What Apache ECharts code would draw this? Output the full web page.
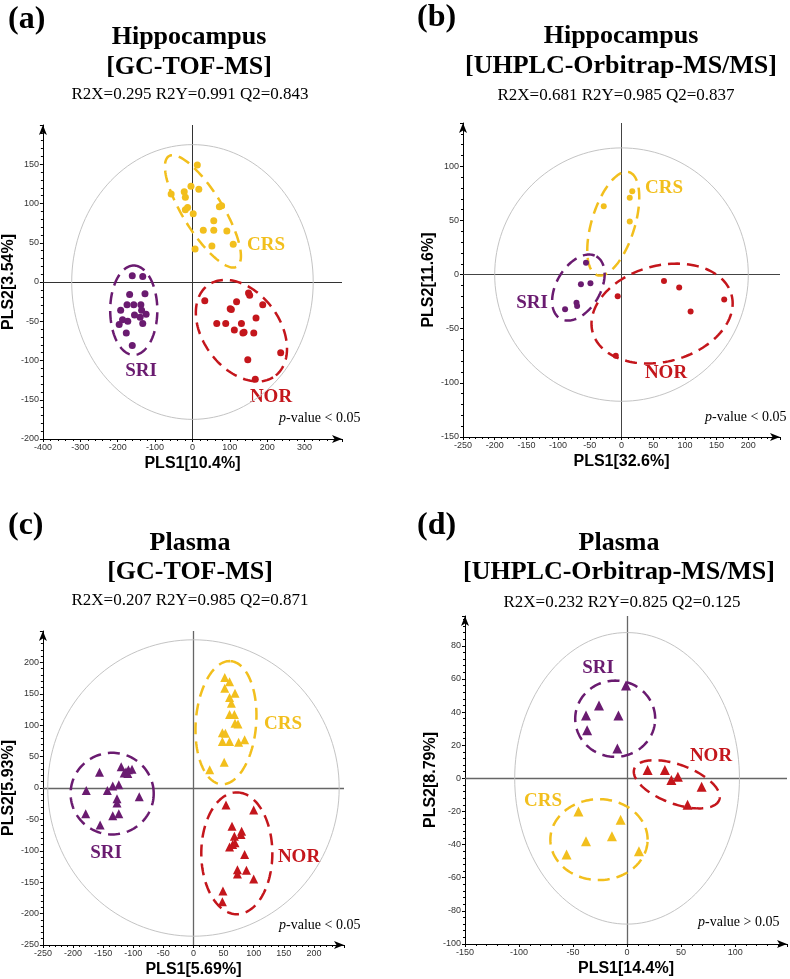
<!DOCTYPE html>
<html>
<head>
<meta charset="utf-8">
<script src="https://cdn.jsdelivr.net/npm/echarts@6/dist/echarts.min.js"></script>
<style>
  html, body { margin: 0; padding: 0; background: #fff; }
  #box { width: 790px; height: 979px; }
</style>
</head>
<body>
<div id="box"></div>
<script>
// group colours
var cCRS = "#F2BF1D", cSRI = "#6A1B70", cNOR = "#C4161C";

// (a) Hippocampus [GC-TOF-MS]  -- score points [PLS1, PLS2]
var aCRS = [[13,149],[-57,112],[-22,115],[-19,108],[-4,122],[17,118],[-19,92],[-13,95],[2,87],
            [72,96],[78,97],[57,78],[29,66],[57,66],[92,65],[109,48],[52,46],[7,42]];
var aSRI = [[-161,8],[-133,7],[-168,-16],[-127,-15],[-192,-36],[-175,-29],[-157,-29],[-138,-29],
            [-136,-36],[-155,-42],[-124,-41],[-140,-45],[-196,-54],[-187,-48],[-173,-50],
            [-133,-53],[-177,-65],[-161,-81]];
var aNOR = [[33,-24],[65,-53],[89,-53],[101,-34],[104,-35],[118,-25],[112,-61],[131,-53],
            [135,-65],[138,-64],[150,-14],[153,-17],[170,-46],[188,-29],[164,-65],[148,-99],
            [168,-124],[236,-90]];
// ellipses: [cx, cy, ux, uy, vx, vy]  (u, v = conjugate semi-axes)
var aT2 = [0, 0, 323, 0, 0, 175];
var aEllCRS = [28, 90, -64, 69.5, 79, -17];
var aEllSRI = [-157, -36, 0, 57, 63, 0];
var aEllNOR = [131, -62, 92, -57, 80, 30.5];

// (b) Hippocampus [UHPLC-Orbitrap-MS/MS]
var bCRS = [[-28,63],[17,77],[13,71],[13,49]];
var bSRI = [[-56,11],[-64,-9],[-49,-8],[-71,-26],[-70,-29],[-89,-32]];
var bNOR = [[-6,-20],[-9,-75],[67,-6],[91,-12],[109,-34],[162,-23]];
var bT2 = [0, 0, 200, 0, 0, 117];
var bEllCRS = [-13, 47, 25, 47.6, 32.5, -5.8];
var bEllSRI = [-68, -12, 28.4, 28.8, 30.1, -10.1];
var bEllNOR = [64, -36, 109.6, 17.2, 19.6, -42.8];

// (c) Plasma [GC-TOF-MS]
var cCRSpts = [[52,176],[60,169],[52,159],[69,151],[60,144],[63,135],[60,117],[68,117],[69,103],
               [74,102],[48,88],[53,87],[48,74],[60,74],[75,73],[85,77],[51,41],[27,29]];
var cSRIpts = [[-156,25],[-178,-4],[-179,-41],[-155,-59],[-143,-4],[-134,3],[-124,5],[-120,34],
               [-112,26],[-108,29],[-102,30],[-115,24],[-109,23],[-127,-17],[-127,-24],
               [-134,-44],[-124,-41],[-90,-14]];
var cNORpts = [[54,-27],[100,-35],[64,-61],[68,-77],[79,-74],[80,-69],[60,-94],[65,-90],[69,-87],
               [85,-106],[73,-130],[73,-137],[88,-131],[100,-145],[49,-164],[48,-181]];
var cT2 = [0, 0, 242, 0, 0, 236];
var cEllCRS = [54, 104, 8, 98, 50, -4];
var cEllSRI = [-135, -9, 69, 0, 0, 65];
var cEllNOR = [72, -104, 0, 97, 59, 0];

// (d) Plasma [UHPLC-Orbitrap-MS/MS]
var dSRI = [[-1,56],[-26,44],[-38,38],[-8,38],[-37,29],[-9,18]];
var dNOR = [[19,5],[35,5],[47,1],[41,-1],[69,-5],[56,-16]];
var dCRS = [[-45,-20],[-6,-25],[-38,-38],[-14,-35],[-56,-46],[11,-44]];
var dT2 = [0, 0, 104, 0, 0, 88];
var dEllSRI = [-11, 36, 37, 0, 0, 23];
var dEllNOR = [46, -3.6, 39.3, -9.4, -6.2, -11.1];
var dEllCRS = [-26, -37, 45, 0, 0, 24.4];

var serif = "Liberation Serif", sans = "Liberation Sans";

function xAx(g, min, max, step, name) {
  return {
    gridIndex: g, type: "value", min: min, max: max, interval: step,
    name: name, nameLocation: "middle", nameGap: 17,
    nameTextStyle: { fontFamily: sans, fontWeight: "bold", fontSize: 16, color: "#000" },
    axisLine: { onZero: false, symbol: ["none", "arrow"], symbolSize: [6, 10],
                lineStyle: { color: "#000", width: 1 } },
    axisTick: { length: 3, lineStyle: { color: "#000" } },
    minorTick: { show: true, splitNumber: 5, length: 2, lineStyle: { color: "#000" } },
    axisLabel: { fontFamily: sans, fontSize: 9, color: "#333", margin: 4, showMaxLabel: false },
    splitLine: { show: false }
  };
}
function yAx(g, min, max, step, name) {
  var a = xAx(g, min, max, step, name);
  a.nameGap = 21;
  a.nameRotate = 90;
  return a;
}

function pts(g, data, color, sym, size, zeroCol, zeroW) {
  var s = {
    type: "scatter", xAxisIndex: g, yAxisIndex: g, data: data,
    symbol: sym, symbolSize: size, silent: true, z: 4,
    itemStyle: { color: color, opacity: 1 }
  };
  if (zeroCol) {
    // the two zero lines through the origin
    s.markLine = {
      silent: true, symbol: "none", label: { show: false }, z: 1,
      lineStyle: { color: zeroCol, type: "solid", width: zeroW },
      data: [{ xAxis: 0 }, { yAxis: 0 }]
    };
  }
  return s;
}

function ellSeries(g, item, color, width, dash) {
  return {
    type: "custom", xAxisIndex: g, yAxisIndex: g, silent: true, z: 2,
    data: [item],
    renderItem: function (params, api) {
      var cx = api.value(0), cy = api.value(1);
      var c = api.coord([cx, cy]);
      var pu = api.coord([cx + api.value(2), cy + api.value(3)]);
      var pv = api.coord([cx + api.value(4), cy + api.value(5)]);
      var p = [];
      for (var i = 0; i < 144; i++) {
        var t = i / 144 * 2 * Math.PI;
        p.push([
          c[0] + Math.cos(t) * (pu[0] - c[0]) + Math.sin(t) * (pv[0] - c[0]),
          c[1] + Math.cos(t) * (pu[1] - c[1]) + Math.sin(t) * (pv[1] - c[1])
        ]);
      }
      return {
        type: "polygon", shape: { points: p },
        style: { fill: "none", stroke: color, lineWidth: width, lineDash: dash }
      };
    }
  };
}

function txt(x, y, s, font, color, align) {
  return {
    type: "text", x: x, y: y, silent: true,
    style: { text: s, font: font, fill: color, align: align || "center", verticalAlign: "middle" }
  };
}
function pval(x, y, s) {
  return {
    type: "text", x: x, y: y, silent: true,
    style: {
      text: "{i|p}" + s, fill: "#000", align: "left", verticalAlign: "middle",
      font: "14px " + serif,
      rich: { i: { fontStyle: "italic", fontFamily: serif, fontSize: 14 } }
    }
  };
}

var dash = [12, 7];
var chart = echarts.init(document.getElementById("box"));

var option = {
  backgroundColor: "#fff",
  animation: false,
  grid: [
    { left: 37, top: 125, width: 305, height: 314 },
    { left: 463, top: 123, width: 317, height: 314 },
    { left: 37, top: 631, width: 307, height: 315 },
    { left: 465, top: 616, width: 322, height: 328 }
  ],
  xAxis: [
    xAx(0, -400, 400, 100, "PLS1[10.4%]"),
    xAx(1, -250, 250, 50, "PLS1[32.6%]"),
    xAx(2, -250, 250, 50, "PLS1[5.69%]"),
    xAx(3, -150, 148, 50, "PLS1[14.4%]")
  ],
  yAxis: [
    yAx(0, -200, 200, 50, "PLS2[3.54%]"),
    yAx(1, -150, 140, 50, "PLS2[11.6%]"),
    yAx(2, -250, 250, 50, "PLS2[5.93%]"),
    yAx(3, -100, 98, 20, "PLS2[8.79%]")
  ],
  series: [
    ellSeries(0, aT2, "#C4C4C4", 1, null),
    ellSeries(0, aEllCRS, cCRS, 2.5, dash),
    ellSeries(0, aEllSRI, cSRI, 2.5, dash),
    ellSeries(0, aEllNOR, cNOR, 2.5, dash),
    pts(0, aCRS, cCRS, "circle", 7, "#333", 1),
    pts(0, aSRI, cSRI, "circle", 7),
    pts(0, aNOR, cNOR, "circle", 7),

    ellSeries(1, bT2, "#C4C4C4", 1, null),
    ellSeries(1, bEllCRS, cCRS, 2.5, dash),
    ellSeries(1, bEllSRI, cSRI, 2.5, dash),
    ellSeries(1, bEllNOR, cNOR, 2.5, dash),
    pts(1, bCRS, cCRS, "circle", 6, "#444", 1),
    pts(1, bSRI, cSRI, "circle", 6),
    pts(1, bNOR, cNOR, "circle", 6),

    ellSeries(2, cT2, "#C4C4C4", 1, null),
    ellSeries(2, cEllCRS, cCRS, 2.5, dash),
    ellSeries(2, cEllSRI, cSRI, 2.5, dash),
    ellSeries(2, cEllNOR, cNOR, 2.5, dash),
    pts(2, cCRSpts, cCRS, "triangle", 9, "#666", 1.3),
    pts(2, cSRIpts, cSRI, "triangle", 9),
    pts(2, cNORpts, cNOR, "triangle", 9),

    ellSeries(3, dT2, "#C4C4C4", 1, null),
    ellSeries(3, dEllSRI, cSRI, 2.5, dash),
    ellSeries(3, dEllNOR, cNOR, 2.5, dash),
    ellSeries(3, dEllCRS, cCRS, 2.5, dash),
    pts(3, dSRI, cSRI, "triangle", 10, "#666", 1.3),
    pts(3, dNOR, cNOR, "triangle", 10),
    pts(3, dCRS, cCRS, "triangle", 10)
  ],
  graphic: [
    // panel letters
    txt(8, 20, "(a)", "bold 32px " + serif, "#000", "left"),
    txt(417, 18, "(b)", "bold 32px " + serif, "#000", "left"),
    txt(8, 526, "(c)", "bold 32px " + serif, "#000", "left"),
    txt(417, 526, "(d)", "bold 32px " + serif, "#000", "left"),
    // titles
    txt(189, 37, "Hippocampus", "bold 26px " + serif, "#000"),
    txt(189, 67, "[GC-TOF-MS]", "bold 26px " + serif, "#000"),
    txt(190, 95, "R2X=0.295 R2Y=0.991 Q2=0.843", "17px " + serif, "#000"),
    txt(621, 36, "Hippocampus", "bold 26px " + serif, "#000"),
    txt(621, 66, "[UHPLC-Orbitrap-MS/MS]", "bold 26px " + serif, "#000"),
    txt(616, 96, "R2X=0.681 R2Y=0.985 Q2=0.837", "17px " + serif, "#000"),
    txt(190, 543, "Plasma", "bold 26px " + serif, "#000"),
    txt(190, 572, "[GC-TOF-MS]", "bold 26px " + serif, "#000"),
    txt(190, 601, "R2X=0.207 R2Y=0.985 Q2=0.871", "17px " + serif, "#000"),
    txt(619, 543, "Plasma", "bold 26px " + serif, "#000"),
    txt(619, 572, "[UHPLC-Orbitrap-MS/MS]", "bold 26px " + serif, "#000"),
    txt(622, 603, "R2X=0.232 R2Y=0.825 Q2=0.125", "17px " + serif, "#000"),
    // group labels
    txt(266, 245, "CRS", "bold 19px " + serif, cCRS),
    txt(141, 371, "SRI", "bold 19px " + serif, cSRI),
    txt(271, 397, "NOR", "bold 19px " + serif, cNOR),
    txt(664, 188, "CRS", "bold 19px " + serif, cCRS),
    txt(532, 303, "SRI", "bold 19px " + serif, cSRI),
    txt(666, 373, "NOR", "bold 19px " + serif, cNOR),
    txt(283, 724, "CRS", "bold 19px " + serif, cCRS),
    txt(106, 853, "SRI", "bold 19px " + serif, cSRI),
    txt(299, 857, "NOR", "bold 19px " + serif, cNOR),
    txt(598, 668, "SRI", "bold 19px " + serif, cSRI),
    txt(711, 756, "NOR", "bold 19px " + serif, cNOR),
    txt(543, 801, "CRS", "bold 19px " + serif, cCRS),
    // p-values
    pval(279, 418, "-value < 0.05"),
    pval(705, 417, "-value < 0.05"),
    pval(279, 925, "-value < 0.05"),
    pval(698, 922, "-value > 0.05")
  ]
};

chart.setOption(option);
</script>
</body>
</html>
